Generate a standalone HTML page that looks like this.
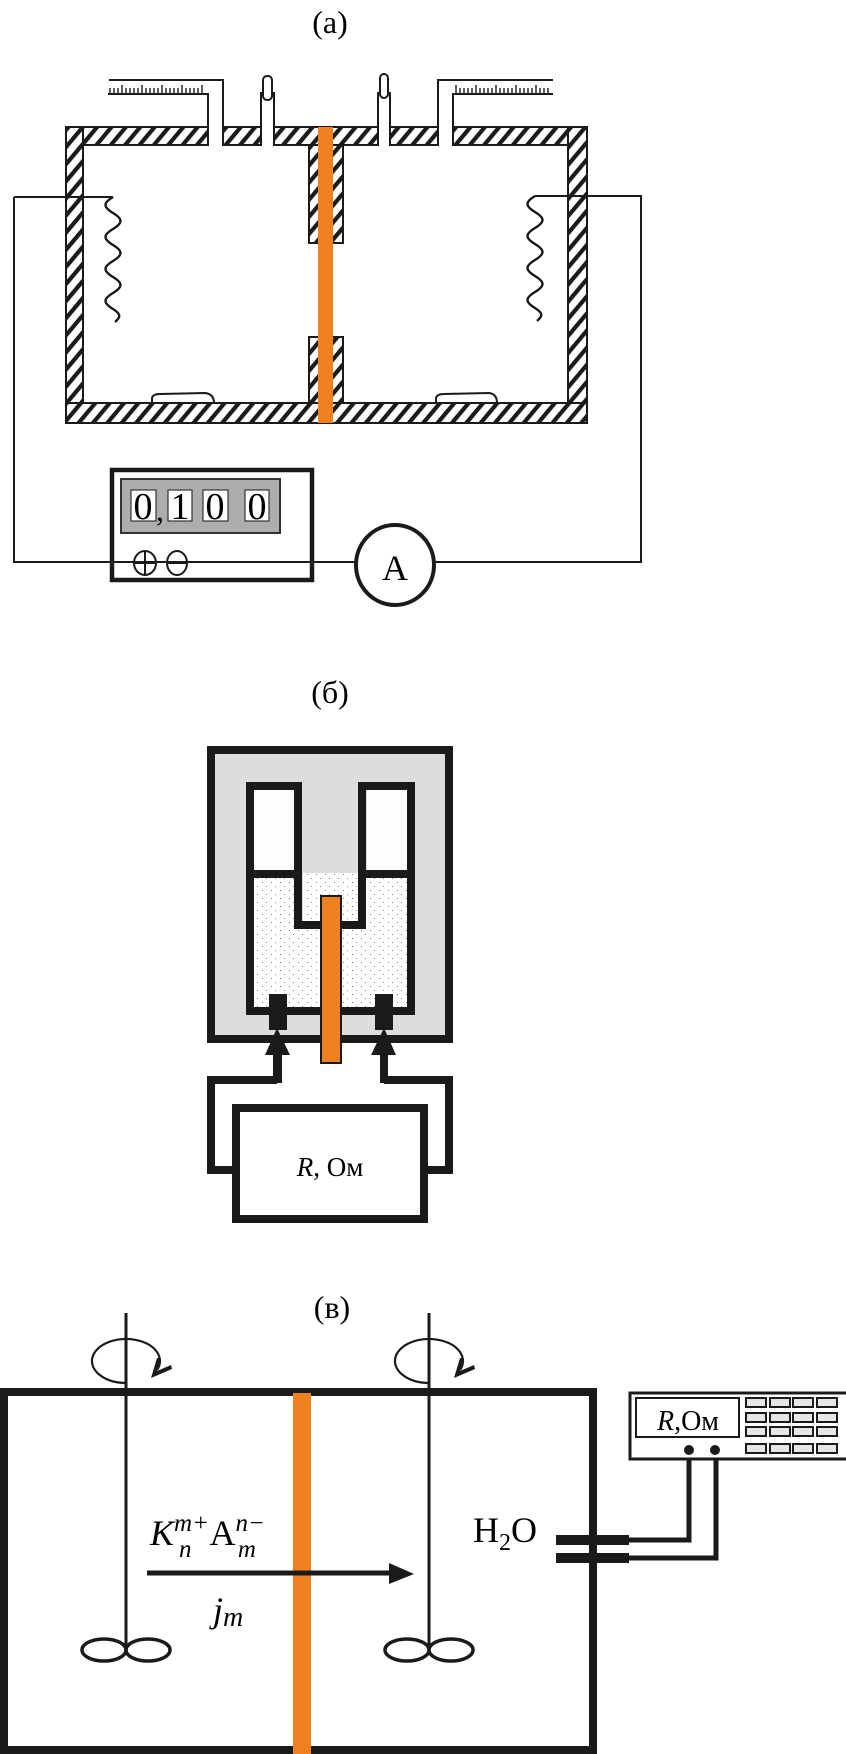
<!DOCTYPE html>
<html><head><meta charset="utf-8"><style>html,body{margin:0;padding:0;background:#fff}svg{display:block}</style></head><body>
<svg width="846" height="1754" viewBox="0 0 846 1754" xmlns="http://www.w3.org/2000/svg" font-family="Liberation Serif, serif">
<defs>
<pattern id="h" patternUnits="userSpaceOnUse" width="11" height="11" patternTransform="rotate(40)">
<rect width="11" height="11" fill="#fff"/><rect x="0" y="0" width="4.2" height="11" fill="#1a1a1a"/></pattern>
<pattern id="d" patternUnits="userSpaceOnUse" width="9" height="8">
<rect width="9" height="8" fill="#fff"/><rect x="1" y="2" width="1" height="1" fill="#777"/><rect x="5" y="6" width="1" height="1" fill="#888"/></pattern>
</defs>
<!-- (a) -->
<text x="330" y="33" font-size="32" text-anchor="middle">(a)</text>
<g stroke="#1a1a1a" stroke-width="2" fill="url(#h)">
<rect x="66" y="127" width="142" height="18"/>
<rect x="223" y="127" width="38" height="18"/>
<rect x="274" y="127" width="104" height="18"/>
<rect x="390" y="127" width="48" height="18"/>
<rect x="453" y="127" width="134" height="18"/>
<rect x="66" y="127" width="17" height="296"/>
<rect x="568" y="127" width="19" height="296"/>
<rect x="66" y="403" width="521" height="20"/>
<rect x="309" y="145" width="34" height="98"/>
<rect x="309" y="337" width="34" height="66"/>
</g>
<rect x="318" y="127" width="15" height="296" fill="#ef8121"/>
<g stroke="#1a1a1a" stroke-width="2" fill="none">
<path d="M109 80H223V127M208 127V94H108M438 127V80H553M453 127V94H553"/>
<path d="M261 127V92M274 127V92M378 127V92M390 127V92"/>
<rect x="263" y="76" width="9" height="24" rx="4" fill="#fff"/>
<rect x="380" y="74" width="8" height="24" rx="4" fill="#fff"/>
<path d="M152 403V398Q153 394 160 394L205 393Q214 394 214 403"/>
<path d="M436 403V398Q437 394 444 394L489 393Q497 394 497 403"/>
<path d="M14 197H113M14 197V562H355M434 562H641V196H535"/>
</g>
<g stroke="#1a1a1a" stroke-width="2.4" fill="none">
<path d="M113 197c-10 6 -10 10 0 16c10 6 10 10 0 16c-10 6 -10 10 0 16c10 6 10 10 0 16c-10 6 -10 10 0 16c10 6 10 10 0 16c-10 6 -10 10 0 16c8 5 8 8 2 13"/>
<path d="M535 196c-10 6 -10 10 0 16c10 6 10 10 0 16c-10 6 -10 10 0 16c10 6 10 10 0 16c-10 6 -10 10 0 16c10 6 10 10 0 16c-10 6 -10 10 0 16c8 5 8 8 2 13"/>
</g>
<g stroke="#1a1a1a" stroke-width="1.4">
<path d="M110 94V88M114 94V88M118 94V88M122 94V85M126 94V88M130 94V88M134 94V88M138 94V88M142 94V85M146 94V88M150 94V88M154 94V88M158 94V88M162 94V85M166 94V88M170 94V88M174 94V88M178 94V88M182 94V85M186 94V88M190 94V88M194 94V88M198 94V88M202 94V85"/>
<path d="M456 94V85M460 94V88M464 94V88M468 94V88M472 94V88M476 94V85M480 94V88M484 94V88M488 94V88M492 94V88M496 94V85M500 94V88M504 94V88M508 94V88M512 94V88M516 94V85M520 94V88M524 94V88M528 94V88M532 94V88M536 94V85M540 94V88M544 94V88M548 94V88"/>
</g>
<rect x="112" y="470" width="200" height="110" fill="#fff" stroke="#1a1a1a" stroke-width="4.5"/>
<path d="M112 562H355" stroke="#1a1a1a" stroke-width="2"/>
<rect x="121" y="479" width="159" height="54" fill="#acadaf" stroke="#333" stroke-width="2"/>
<g fill="#fff" stroke="#333" stroke-width="1.2"><rect x="131" y="490" width="25" height="31"/><rect x="168" y="490" width="24" height="31"/><rect x="203" y="490" width="25" height="31"/><rect x="245" y="490" width="24" height="31"/></g>
<g font-size="38" text-anchor="middle"><text x="143" y="519">0</text><text x="180" y="519">1</text><text x="215" y="519">0</text><text x="257" y="519">0</text><text x="160" y="521" font-size="32">,</text></g>
<g stroke="#1a1a1a" stroke-width="2" fill="none"><ellipse cx="145" cy="563" rx="11" ry="12"/><path d="M134 563H156M145 551V575"/><ellipse cx="177" cy="563" rx="10" ry="12"/><path d="M167 563H187"/></g>
<ellipse cx="395" cy="565" rx="39" ry="40" fill="#fff" stroke="#1a1a1a" stroke-width="4"/>
<text x="395" y="580" font-size="36" text-anchor="middle">A</text>
<!-- (б) -->
<text x="330" y="703" font-size="32" text-anchor="middle">(б)</text>
<rect x="211" y="750" width="238" height="289" fill="#dedcdc" stroke="#1a1a1a" stroke-width="8"/>
<rect x="254" y="790" width="41" height="81" fill="#fdfdfd"/>
<rect x="367" y="790" width="44" height="81" fill="#fdfdfd"/>
<path d="M254 875H299V926H362V875H411V1007H254Z" fill="url(#d)"/>
<rect x="303" y="873" width="55" height="51" fill="url(#d)"/>
<g stroke="#1a1a1a" stroke-width="8" fill="none">
<path d="M250 786H298V925H362V786H411V1011H250Z"/>
<path d="M254 874H298M362 874H411"/>
</g>
<rect x="321" y="896" width="20" height="167" fill="#ef8121" stroke="#1a1a1a" stroke-width="2"/>
<g fill="#1a1a1a">
<rect x="269" y="994" width="18" height="36"/><path d="M277 1028L290 1055H265Z"/><rect x="273" y="1053" width="9" height="30"/>
<rect x="375" y="994" width="18" height="36"/><path d="M384 1028L396 1055H371Z"/><rect x="380" y="1053" width="8" height="30"/>
</g>
<path d="M277 1080H211V1170H232M384 1080H449V1170H428" stroke="#1a1a1a" stroke-width="8" fill="none"/>
<rect x="236" y="1108" width="188" height="111" fill="#fff" stroke="#1a1a1a" stroke-width="8"/>
<text x="330" y="1176" font-size="27" text-anchor="middle"><tspan font-style="italic">R</tspan>, Ом</text>
<!-- (в) -->
<text x="332" y="1318" font-size="32" text-anchor="middle">(в)</text>
<rect x="4" y="1392" width="589" height="358" fill="#fff" stroke="#1a1a1a" stroke-width="8"/>
<rect x="293" y="1393" width="18" height="361" fill="#ef8121"/>
<g stroke="#1a1a1a" stroke-width="3" fill="none">
<path d="M126 1313V1647M429 1313V1647"/>
</g>
<g stroke="#1a1a1a" stroke-width="2.2" fill="none">
<path d="M125 1383A34 22 0 1 1 157 1370"/>
<path d="M428 1383A34 22 0 1 1 460 1370"/>
</g>
<path d="M157 1358L160 1358L157 1371L171 1365L172 1369L151 1378Z" fill="#1a1a1a"/>
<path d="M460 1358L463 1358L460 1371L474 1365L475 1369L454 1378Z" fill="#1a1a1a"/>
<g stroke="#1a1a1a" stroke-width="3.5" fill="none"><ellipse cx="104" cy="1650" rx="22" ry="11"/><ellipse cx="148" cy="1650" rx="22" ry="11"/><ellipse cx="407" cy="1650" rx="22" ry="11"/><ellipse cx="451" cy="1650" rx="22" ry="11"/></g>
<path d="M147 1573H395" stroke="#1a1a1a" stroke-width="5"/><path d="M389 1563L414 1574L389 1584Z" fill="#1a1a1a"/>
<text x="150" y="1545" font-size="36" font-style="italic">K<tspan font-size="25" dy="-14">m+</tspan><tspan font-size="25" dx="-30" dy="26">n</tspan><tspan font-style="normal" dx="18" dy="-12">A</tspan><tspan font-size="25" dy="-14">n−</tspan><tspan font-size="25" dx="-27" dy="26">m</tspan></text>
<text x="213" y="1622" font-size="36" font-style="italic">j<tspan font-size="28" dy="4">m</tspan></text>
<text x="473" y="1542" font-size="36">H<tspan font-size="24" dy="8">2</tspan><tspan dy="-8">O</tspan></text>
<g fill="#1a1a1a"><rect x="556" y="1535" width="73" height="10"/><rect x="556" y="1553" width="73" height="10"/></g>
<path d="M629 1540H689V1450M629 1558H716V1450" stroke="#1a1a1a" stroke-width="5" fill="none"/>
<rect x="630" y="1393" width="220" height="66" fill="#fff" stroke="#1a1a1a" stroke-width="3"/>
<rect x="636" y="1398" width="103" height="39" fill="#fff" stroke="#1a1a1a" stroke-width="2"/>
<text x="688" y="1430" font-size="28" text-anchor="middle"><tspan font-style="italic">R</tspan>,Ом</text>
<g fill="#e4e6e8" stroke="#1a1a1a" stroke-width="2">
<rect x="746" y="1398" width="20" height="9"/><rect x="770" y="1398" width="20" height="9"/><rect x="793" y="1398" width="20" height="9"/><rect x="817" y="1398" width="20" height="9"/>
<rect x="746" y="1413" width="20" height="9"/><rect x="770" y="1413" width="20" height="9"/><rect x="793" y="1413" width="20" height="9"/><rect x="817" y="1413" width="20" height="9"/>
<rect x="746" y="1427" width="20" height="9"/><rect x="770" y="1427" width="20" height="9"/><rect x="793" y="1427" width="20" height="9"/><rect x="817" y="1427" width="20" height="9"/>
<rect x="746" y="1444" width="20" height="9"/><rect x="770" y="1444" width="20" height="9"/><rect x="793" y="1444" width="20" height="9"/><rect x="817" y="1444" width="20" height="9"/>
</g>
<circle cx="689" cy="1450" r="5" fill="#1a1a1a"/><circle cx="715" cy="1450" r="5" fill="#1a1a1a"/>
</svg>
</body></html>
